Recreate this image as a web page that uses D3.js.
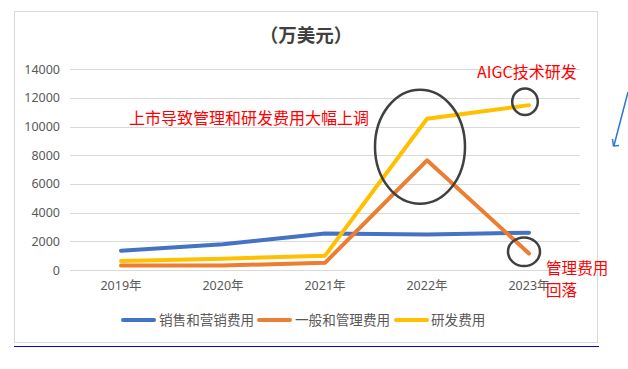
<!DOCTYPE html>
<html><head><meta charset="utf-8">
<script src="https://cdn.jsdelivr.net/npm/d3@7"></script>
<style>
html,body{margin:0;padding:0;background:#fff;}
svg{display:block;font-family:"Noto Sans CJK SC","Noto Sans",sans-serif;}
</style></head>
<body>
<svg id="c" width="628" height="369"></svg>
<script>
const years = ["2019年","2020年","2021年","2022年","2023年"];
const seriesNames = ["销售和营销费用","一般和管理费用","研发费用"];
const sales = [1350, 1800, 2550, 2480, 2600];
const admin = [320, 320, 500, 7650, 1150];
const rd = [620, 780, 1000, 10550, 11500];
const yTicks = [0,2000,4000,6000,8000,10000,12000,14000];
const colors = ["#4472C4","#ED7D31","#FFC000"];
const title = "（万美元）";
const notes = ["上市导致管理和研发费用大幅上调","AIGC技术研发","管理费用","回落"];

const svg = d3.select("#c");
// frame
svg.append("rect").attr("x",14.5).attr("y",11.5).attr("width",583).attr("height",331)
  .attr("fill","#fff").attr("stroke","#d9d9d9").attr("stroke-width",1);
svg.append("line").attr("x1",14).attr("x2",599).attr("y1",346.5).attr("y2",346.5)
  .attr("stroke","#0000ff").attr("stroke-width",1);

const x = d3.scaleBand().domain(years).range([70,580]);
const y = d3.scaleLinear().domain([0,14000]).range([270,69.3]);

// gridlines
svg.append("g").selectAll("line").data(yTicks).join("line")
  .attr("x1",70).attr("x2",580)
  .attr("y1",d=>Math.round(y(d))+0.5).attr("y2",d=>Math.round(y(d))+0.5)
  .attr("stroke","#d9d9d9").attr("stroke-width",1);

// y axis
const yAxis = svg.append("g").attr("transform","translate(66,0)")
  .call(d3.axisLeft(y).tickValues(yTicks).tickSize(0).tickPadding(6).tickFormat(d3.format("d")));
yAxis.select(".domain").remove();
yAxis.selectAll("text").attr("fill","#595959").style("font-size","12.5px")
  .style("font-family","'Noto Sans','Noto Sans CJK SC',sans-serif");

// x axis
const xAxis = svg.append("g").attr("transform","translate(0,281)")
  .call(d3.axisBottom(x).tickSize(0).tickPadding(0));
xAxis.select(".domain").remove();
xAxis.selectAll("text").attr("fill","#595959").style("font-size","12.5px")
  .style("font-family","'Noto Sans','Noto Sans CJK SC',sans-serif");

// title
svg.append("text").attr("x",306).attr("y",42).attr("text-anchor","middle")
  .attr("fill","#404040").style("font-size","18.5px").style("font-weight","bold").text(title);

// lines
const data = [sales, admin, rd];
const line = d3.line().x((d,i)=>x(years[i])+x.bandwidth()/2).y(d=>y(d));
svg.append("g").selectAll("path").data(data).join("path")
  .attr("d",line).attr("fill","none")
  .attr("stroke",(d,i)=>colors[i]).attr("stroke-width",4)
  .attr("stroke-linejoin","round").attr("stroke-linecap","round");

// legend
const leg = [{x:123,tx:159},{x:259,tx:295},{x:396,tx:431}];
const lg = svg.append("g");
seriesNames.forEach((n,i)=>{
  lg.append("line").attr("x1",leg[i].x).attr("x2",leg[i].x+31).attr("y1",320).attr("y2",320)
    .attr("stroke",colors[i]).attr("stroke-width",4).attr("stroke-linecap","round");
  lg.append("text").attr("x",leg[i].tx).attr("y",325).attr("fill","#595959")
    .style("font-size","13.6px").text(n);
});

// annotations
const red = "#ff0000";
svg.append("text").attr("x",129).attr("y",124).attr("fill",red).style("font-size","16px").text(notes[0]);
svg.append("text").attr("x",477).attr("y",78).attr("fill",red).style("font-size","16px").text(notes[1]);
svg.append("text").attr("x",546).attr("y",274).attr("fill",red).style("font-size","15.6px").text(notes[2]);
svg.append("text").attr("x",546).attr("y",296).attr("fill",red).style("font-size","15.6px").text(notes[3]);

// ellipses
const ell = [
  {cx:x(years[3])+x.bandwidth()/2-7, cy:146.7, rx:45, ry:57},
  {cx:x(years[4])+x.bandwidth()/2-4, cy:101.7, rx:12.8, ry:13.3},
  {cx:x(years[4])+x.bandwidth()/2-5, cy:251.7, rx:16, ry:14.3}
];
svg.append("g").selectAll("ellipse").data(ell).join("ellipse")
  .attr("cx",d=>d.cx).attr("cy",d=>d.cy).attr("rx",d=>d.rx).attr("ry",d=>d.ry)
  .attr("fill","none").attr("stroke","#404040").attr("stroke-width",2.5);

// partial blue arrow on right edge
svg.append("line").attr("x1",628).attr("y1",92).attr("x2",614).attr("y2",145.5)
  .attr("stroke","#2e75d6").attr("stroke-width",1.5);
svg.append("path").attr("d","M612.5,139 L613.5,146 L619,145.5")
  .attr("fill","none").attr("stroke","#2e75d6").attr("stroke-width",1.5);
</script>
</body></html>
